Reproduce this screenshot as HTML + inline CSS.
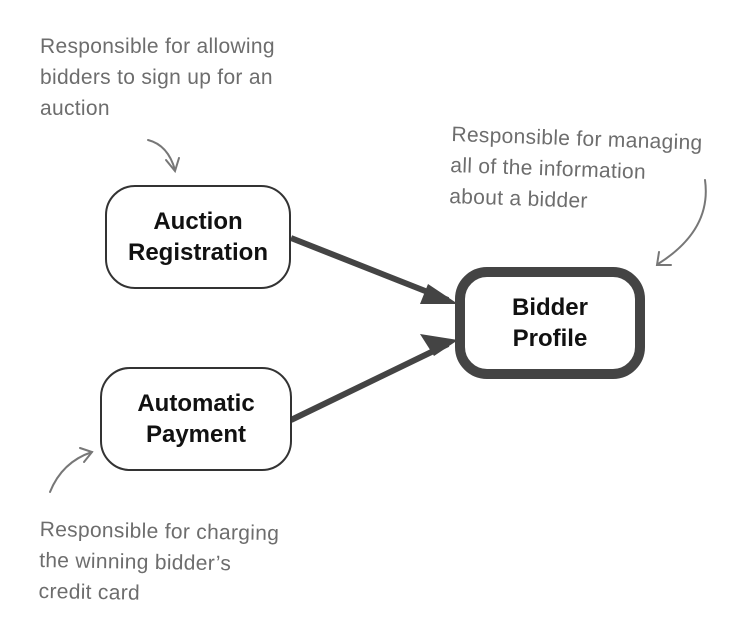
<!DOCTYPE html>
<html><head><meta charset="utf-8"><style>
body{margin:0;width:746px;height:633px;background:#fff;overflow:hidden;position:relative;font-family:"Liberation Sans",sans-serif}
.note{position:absolute;color:#6d6d6d;font-size:21px;line-height:31px;letter-spacing:0.3px}
.box{position:absolute;box-sizing:border-box;display:flex;align-items:center;justify-content:center;text-align:center;font-weight:bold;font-size:24px;line-height:31px;color:#111;background:#fff}
</style></head><body>
<svg width="746" height="633" style="position:absolute;left:0;top:0">
<g stroke="#444" stroke-width="6" fill="none">
<line x1="291" y1="238" x2="448" y2="300"/>
<line x1="291" y1="420" x2="448" y2="344"/>
</g>
<polygon points="458,304 428,284 420,304" fill="#444"/>
<polygon points="458,340 420,334 434,356" fill="#444"/>
<g stroke="#777" stroke-width="2" fill="none" stroke-linecap="round">
<path d="M148,140 Q168,145 175,170"/><path d="M166,160 L175,171 L179,158"/>
<path d="M705,180 Q712,230 658,264"/><path d="M659,252 L657,265 L671,265"/>
<path d="M50,492 Q62,462 92,452"/><path d="M80,448 L92,452 L84,462"/>
</g>
</svg>
<div class="note" style="left:40px;top:31px">Responsible for allowing<br>bidders to sign up for an<br>auction</div>
<div class="note" style="left:452px;top:119px;transform:rotate(2deg);transform-origin:left top">Responsible for managing<br>all of the information<br>about a bidder</div>
<div class="note" style="left:40px;top:514px;transform:rotate(1deg);transform-origin:left top">Responsible for charging<br>the winning bidder’s<br>credit card</div>
<div class="box" style="left:105px;top:185px;width:186px;height:104px;border:2px solid #333;border-radius:30px">Auction<br>Registration</div>
<div class="box" style="left:100px;top:367px;width:192px;height:104px;border:2px solid #333;border-radius:30px">Automatic<br>Payment</div>
<div class="box" style="left:455px;top:267px;width:190px;height:112px;border:10px solid #444;border-radius:32px">Bidder<br>Profile</div>
</body></html>
